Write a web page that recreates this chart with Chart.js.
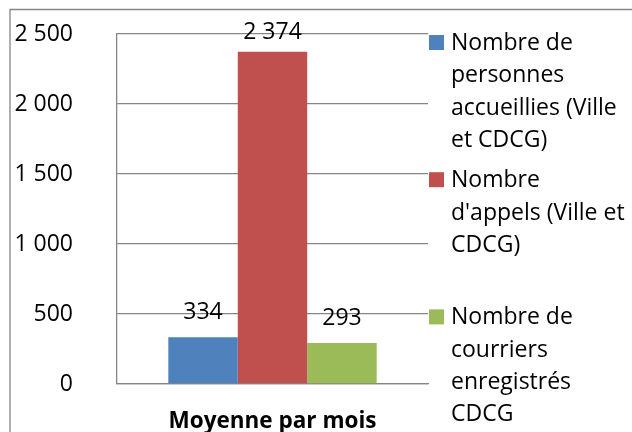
<!DOCTYPE html>
<html>
<head>
<meta charset="utf-8">
<script src="https://cdn.jsdelivr.net/npm/chart.js@4/dist/chart.umd.min.js"></script>
<style>
	html, body { margin: 0; padding: 0; background: #fff; }
	#wrap { width: 632px; height: 432px; position: relative; }
</style>
</head>
<body>
<div id="wrap"><canvas id="chart"></canvas></div>
<script>
const categories = ['Moyenne par mois']
const seriesNames = [
	['Nombre de', 'personnes', 'accueillies (Ville', 'et CDCG)'],
	['Nombre', "d'appels (Ville et", 'CDCG)'],
	['Nombre de', 'courriers', 'enregistrés', 'CDCG'],
]
const seriesValues = [[334], [2374], [293]]
const seriesColors = ['#4F81BD', '#C0504D', '#9BBB59']
const yTicks = [0, 500, 1000, 1500, 2000, 2500]

const gridGray = '#868686'
const fontFamily = "'Open Sans', 'Noto Sans', sans-serif"

// "2374" -> "2 374"
const fmt = (v) => String(v).replace(/\B(?=(\d{3})+(?!\d))/g, ' ')

const frame = {
	id: 'frame',
	beforeDraw(chart) {
		const ctx = chart.ctx
		ctx.save()
		ctx.fillStyle = '#fff'
		ctx.fillRect(0, 0, chart.width, chart.height)
		ctx.strokeStyle = gridGray
		ctx.lineWidth = 1.3
		ctx.beginPath()
		ctx.moveTo(10, chart.height)
		ctx.lineTo(10, 9.5)
		ctx.lineTo(chart.width, 9.5)
		ctx.stroke()
		ctx.restore()
	},
}

const barLabels = {
	id: 'barLabels',
	afterDatasetsDraw(chart) {
		const ctx = chart.ctx
		ctx.save()
		ctx.font = `23px ${fontFamily}`
		ctx.fillStyle = '#000'
		ctx.textAlign = 'center'
		ctx.textBaseline = 'alphabetic'
		chart.data.datasets.forEach((ds, i) => {
			chart.getDatasetMeta(i).data.forEach((bar, j) => {
				const y = Math.max(bar.y - 18, chart.chartArea.top + 5)
				ctx.fillText(fmt(ds.data[j]), bar.x, y)
			})
		})
		ctx.restore()
	},
}

const sideLegend = {
	id: 'sideLegend',
	afterDraw(chart) {
		const ctx = chart.ctx
		const boxX = chart.chartArea.right + 1
		const textX = boxX + 22
		const lineH = 32.3
		const slot = 137.2
		ctx.save()
		ctx.font = `23px ${fontFamily}`
		ctx.textAlign = 'left'
		ctx.textBaseline = 'alphabetic'
		chart.data.datasets.forEach((ds, i) => {
			const base = 50 + i * slot
			ctx.fillStyle = ds.backgroundColor
			ctx.fillRect(boxX, base - 15, 15, 15)
			ctx.fillStyle = '#000'
			seriesNames[i].forEach((line, k) => {
				ctx.fillText(line, textX, base + k * lineH)
			})
		})
		ctx.restore()
	},
}

Chart.defaults.font.family = fontFamily
Chart.defaults.color = '#000'

new Chart(document.getElementById('chart'), {
	type: 'bar',
	data: {
		labels: categories,
		datasets: seriesNames.map((name, i) => ({
			label: name.join(' '),
			data: seriesValues[i],
			backgroundColor: seriesColors[i],
			borderWidth: 0,
			categoryPercentage: 0.67,
			barPercentage: 1,
		})),
	},
	options: {
		responsive: true,
		maintainAspectRatio: false,
		animation: false,
		layout: { padding: { top: 34, right: 204, bottom: 0, left: 0 } },
		plugins: {
			legend: { display: false },
			tooltip: { enabled: false },
		},
		scales: {
			x: {
				grid: { display: false, drawTicks: false },
				border: { display: true, color: gridGray, width: 1.3 },
				ticks: { padding: 24, font: { size: 22.5, weight: 'bold' } },
				afterFit: (scale) => {
					scale.height = 48
				},
			},
			y: {
				min: 0,
				max: 2500,
				afterBuildTicks: (scale) => {
					scale.ticks = yTicks.map((v) => ({ value: v }))
				},
				grid: { color: gridGray, lineWidth: 1.3, drawTicks: false },
				border: { display: true, color: gridGray, width: 1.3 },
				ticks: { padding: 44, font: { size: 23 }, callback: (v) => fmt(v) },
				afterFit: (scale) => {
					// the big label padding would otherwise push the plot in from top and bottom
					scale.width = 117
					scale.paddingTop = 14
					scale.paddingBottom = 14
				},
			},
		},
	},
	plugins: [frame, barLabels, sideLegend],
})
</script>
</body>
</html>
